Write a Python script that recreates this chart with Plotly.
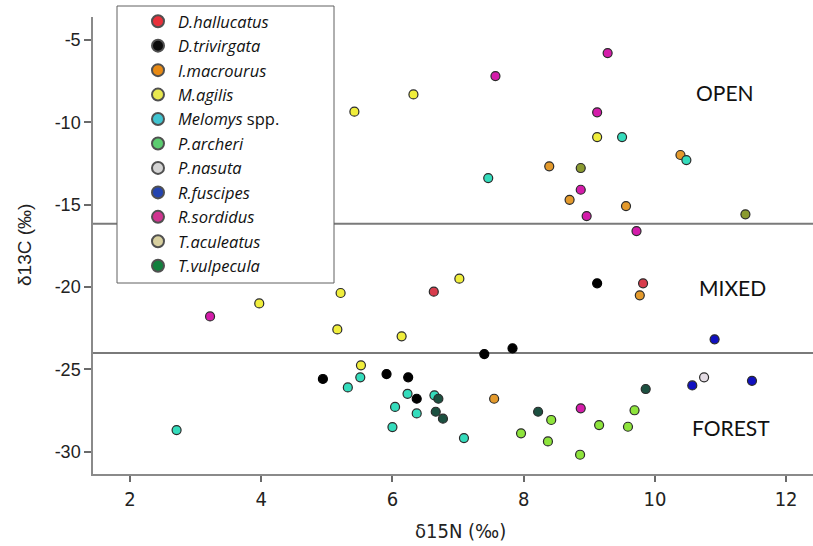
import plotly.graph_objects as go

# Stable isotope values (δ15N, δ13C) per species
species = [
    "D.hallucatus", "D.trivirgata", "I.macrourus", "M.agilis", "Melomys spp.",
    "P.archeri", "P.nasuta", "R.fuscipes", "R.sordidus", "T.aculeatus", "T.vulpecula",
]

d15n = {
    "D.hallucatus": [6.63, 9.82],
    "D.trivirgata": [9.12, 7.83, 7.40, 4.94, 5.91, 6.24, 6.37],
    "I.macrourus": [10.39, 8.39, 8.70, 9.56, 9.77, 7.55],
    "M.agilis": [9.12, 6.32, 5.42, 7.02, 3.97, 5.21, 5.16, 6.14, 5.52],
    "Melomys spp.": [9.50, 10.48, 7.46, 5.51, 5.32, 6.23, 6.64, 6.04, 6.37, 6.00, 2.71, 7.09],
    "P.archeri": [9.69, 8.42, 9.15, 9.59, 7.96, 8.37, 8.86],
    "P.nasuta": [10.75],
    "R.fuscipes": [10.91, 10.57, 11.48],
    "R.sordidus": [9.28, 7.57, 9.12, 8.87, 8.96, 9.72, 3.22, 8.87],
    "T.aculeatus": [8.87, 11.38],
    "T.vulpecula": [6.70, 6.66, 6.77, 8.22, 9.86],
}

d13c = {
    "D.hallucatus": [-20.28, -19.77],
    "D.trivirgata": [-19.77, -23.72, -24.07, -25.58, -25.28, -25.48, -26.78],
    "I.macrourus": [-11.98, -12.67, -14.70, -15.08, -20.50, -26.78],
    "M.agilis": [-10.89, -8.30, -9.35, -19.49, -20.99, -20.36, -22.57, -22.99, -24.75],
    "Melomys spp.": [-10.89, -12.29, -13.38, -25.48, -26.09, -26.48, -26.57, -27.28,
                     -27.67, -28.50, -28.68, -29.17],
    "P.archeri": [-27.48, -28.07, -28.38, -28.48, -28.88, -29.37, -30.18],
    "P.nasuta": [-25.48],
    "R.fuscipes": [-23.17, -25.97, -25.69],
    "R.sordidus": [-5.79, -7.19, -9.39, -14.09, -15.69, -16.60, -21.78, -27.36],
    "T.aculeatus": [-12.77, -15.58],
    "T.vulpecula": [-26.78, -27.57, -27.99, -27.57, -26.19],
}

legend_labels = {
    "D.hallucatus": "<i>D.hallucatus</i>",
    "D.trivirgata": "<i>D.trivirgata</i>",
    "I.macrourus": "<i>I.macrourus</i>",
    "M.agilis": "<i>M.agilis</i>",
    "Melomys spp.": "<i>Melomys</i> spp.",
    "P.archeri": "<i>P.archeri</i>",
    "P.nasuta": "<i>P.nasuta</i>",
    "R.fuscipes": "<i>R.fuscipes</i>",
    "R.sordidus": "<i>R.sordidus</i>",
    "T.aculeatus": "<i>T.aculeatus</i>",
    "T.vulpecula": "<i>T.vulpecula</i>",
}

point_colors = {
    "D.hallucatus": "#d83c4c",
    "D.trivirgata": "#000000",
    "I.macrourus": "#e49a2c",
    "M.agilis": "#f0ee3c",
    "Melomys spp.": "#34dcbc",
    "P.archeri": "#8ee43c",
    "P.nasuta": "#e4dce4",
    "R.fuscipes": "#1010c0",
    "R.sordidus": "#d41caa",
    "T.aculeatus": "#8a9a30",
    "T.vulpecula": "#1c5040",
}

legend_colors = {
    "D.hallucatus": "#e8303a",
    "D.trivirgata": "#0c0c0c",
    "I.macrourus": "#e88a14",
    "M.agilis": "#e8e850",
    "Melomys spp.": "#40c4d0",
    "P.archeri": "#5ccc70",
    "P.nasuta": "#d4d4d4",
    "R.fuscipes": "#2444b0",
    "R.sordidus": "#d03490",
    "T.aculeatus": "#d8d0a0",
    "T.vulpecula": "#12803e",
}

# Habitat boundaries on the δ13C axis and zone labels
zone_bounds = [-16.15, -24.0]
zone_names = ["OPEN", "MIXED", "FOREST"]
zone_label_x = [11.07, 11.19, 11.16]
zone_label_y = [-8.2, -20.0, -28.55]

x_ticks = [2, 4, 6, 8, 10, 12]
y_ticks = [-5, -10, -15, -20, -25, -30]

fig = go.Figure()

for sp in species:
    outline = "#000000" if sp == "D.trivirgata" else "#2a2a2a"
    fig.add_trace(go.Scatter(
        x=d15n[sp], y=d13c[sp], mode="markers", showlegend=False,
        marker=dict(size=9, color=point_colors[sp], line=dict(color=outline, width=1.2)),
        name=sp,
    ))

# Legend-only entries with shaded swatches
for sp in species:
    fig.add_trace(go.Scatter(
        x=[None], y=[None], mode="markers", name=legend_labels[sp],
        marker=dict(size=12, color=legend_colors[sp], line=dict(color="#505050", width=2)),
    ))

for yb in zone_bounds:
    fig.add_shape(type="line", xref="paper", x0=0, x1=1, yref="y", y0=yb, y1=yb,
                  line=dict(color="#7a7a7a", width=2), layer="below")

# White legend frame
fig.add_shape(type="rect", xref="paper", yref="paper",
              x0=(117 - 93) / 720, x1=(334 - 93) / 720,
              y0=(474 - 283) / 457, y1=(474 - 6) / 457,
              fillcolor="white", line=dict(color="#606060", width=1), layer="above")

for name, zx, zy in zip(zone_names, zone_label_x, zone_label_y):
    fig.add_annotation(x=zx, y=zy, text=name, showarrow=False,
                       font=dict(family="Lato, Open Sans, sans-serif", size=21, color="#111111"))

fig.add_annotation(xref="paper", yref="paper", x=(460 - 93) / 720, y=-(531 - 474) / 457,
                   xanchor="center", yanchor="middle",
                   text="δ15N (‰)", showarrow=False,
                   font=dict(family="Liberation Sans Narrow, DejaVu Sans Condensed, sans-serif",
                             size=20, color="#222222"))
fig.add_annotation(xref="paper", yref="paper", x=-(93 - 24) / 720, y=(474 - 245) / 457,
                   xanchor="center", yanchor="middle",
                   text="δ13C (‰)", textangle=-90, showarrow=False,
                   font=dict(family="Liberation Sans, Arial, sans-serif", size=19, color="#222222"))

fig.update_layout(
    width=813, height=546,
    margin=dict(l=93, r=0, t=17, b=72),
    paper_bgcolor="white", plot_bgcolor="white",
    showlegend=True,
    legend=dict(
        x=(138 - 93) / 720, xanchor="left",
        y=(474 - 4) / 457, yanchor="top",
        bgcolor="rgba(0,0,0,0)", borderwidth=0,
        maxheight=600,
        font=dict(family="Open Sans, Lato, sans-serif", size=16.5, color="#111111"),
        itemsizing="trace",
    ),
    xaxis=dict(
        range=[1.436, 12.41], tickvals=x_ticks, ticktext=[str(v) for v in x_ticks],
        showgrid=False, zeroline=False, showline=True, linecolor="#8a8a8a", linewidth=1.5,
        ticks="outside", ticklen=6, tickcolor="#6a6a6a", tickwidth=1.5,
        tickfont=dict(family="Liberation Sans Narrow, DejaVu Sans Condensed, sans-serif",
                      size=20, color="#222222"),
    ),
    yaxis=dict(
        range=[-31.35, -3.6], tickvals=y_ticks, ticktext=[str(v) for v in y_ticks],
        showgrid=False, zeroline=False, showline=True, linecolor="#8a8a8a", linewidth=1.5,
        ticks="outside", ticklen=7, tickcolor="#6a6a6a", tickwidth=1.5,
        tickfont=dict(family="Liberation Sans, Arial, sans-serif", size=18, color="#222222"),
    ),
)

fig.write_html("out.html")
